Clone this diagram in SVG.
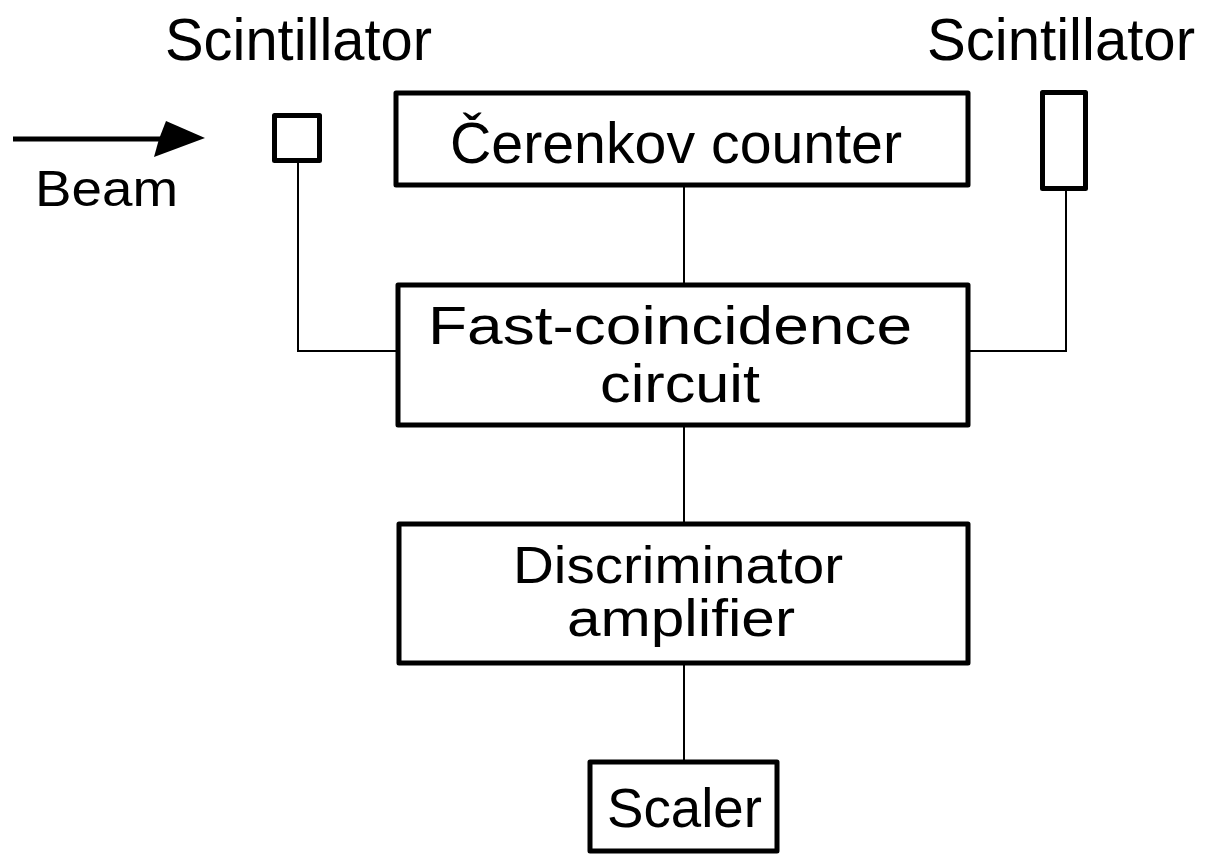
<svg xmlns="http://www.w3.org/2000/svg" width="1207" height="854" viewBox="0 0 1207 854">
<style>
.box{fill:#fff;stroke:#000;stroke-width:5;stroke-linejoin:round}
.wire{fill:none;stroke:#000;stroke-width:2}
text{font-family:"Liberation Sans",Arial,sans-serif;fill:#000}
</style>
<rect width="1207" height="854" fill="#fff"/>
<g id="connectors">
<path class="wire" d="M298 162V351H397"/>
<path class="wire" d="M1066 191V351H969"/>
<path class="wire" d="M684 187V284"/>
<path class="wire" d="M684 427V523"/>
<path class="wire" d="M684 665V761"/>
</g>
<g id="beam">
<line x1="13" y1="139" x2="162" y2="139" stroke="#000" stroke-width="5"/>
<polygon points="205,138 166,121 159,139 154,157" fill="#000"/>
<text x="35" y="206" font-size="50" textLength="143" lengthAdjust="spacingAndGlyphs">Beam</text>
</g>
<g id="scint-left">
<text x="165" y="60" font-size="60" textLength="267" lengthAdjust="spacingAndGlyphs">Scintillator</text>
<rect class="box" x="274.5" y="115.5" width="45" height="45"/>
</g>
<g id="scint-right">
<text x="927" y="60" font-size="60" textLength="268" lengthAdjust="spacingAndGlyphs">Scintillator</text>
<rect class="box" x="1042.5" y="92.5" width="43" height="96"/>
</g>
<g id="cerenkov">
<rect class="box" x="396" y="93" width="572" height="92"/>
<text x="450" y="163" font-size="57" textLength="452" lengthAdjust="spacingAndGlyphs">Čerenkov  counter</text>
</g>
<g id="coincidence">
<rect class="box" x="398" y="285" width="570" height="140"/>
<text x="428" y="344" font-size="54" textLength="484" lengthAdjust="spacingAndGlyphs">Fast-coincidence</text>
<text x="600" y="402" font-size="54" textLength="160" lengthAdjust="spacingAndGlyphs">circuit</text>
</g>
<g id="discriminator">
<rect class="box" x="399" y="524" width="569" height="139"/>
<text x="513" y="583" font-size="52" textLength="330" lengthAdjust="spacingAndGlyphs">Discriminator</text>
<text x="567" y="636" font-size="52" textLength="228" lengthAdjust="spacingAndGlyphs">amplifier</text>
</g>
<g id="scaler">
<rect class="box" x="590" y="762" width="187" height="89"/>
<text x="607" y="827" font-size="56" textLength="155" lengthAdjust="spacingAndGlyphs">Scaler</text>
</g>
</svg>
